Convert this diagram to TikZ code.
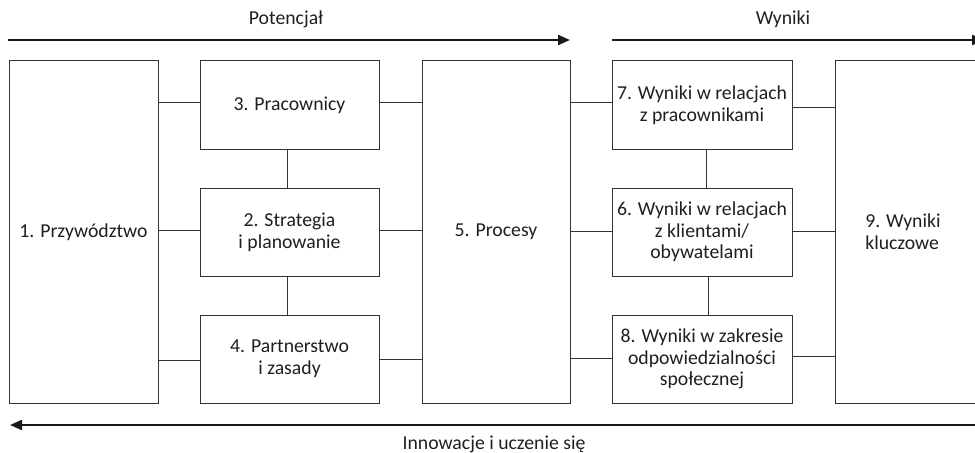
\documentclass[tikz,border=0pt]{standalone}
\usepackage{fontspec}
\setmainfont{Carlito}
\usetikzlibrary{arrows.meta}
\begin{document}
\begin{tikzpicture}[x=0.75pt,y=-0.75pt,
  every node/.style={font=\fontsize{14.8pt}{16.3pt}\selectfont, text=black!88},
  box/.style={draw=black!80, line width=0.75pt, inner sep=0pt, outer sep=0pt, align=center, fill=white},
  tall/.style={box, minimum height=256.5pt},
  small/.style={box, minimum height=66pt},
  conn/.style={draw=black!80, line width=0.75pt},
  flow/.style={draw=black!90, line width=1.6pt, -{Triangle[length=9pt,width=7.5pt]}}
]
\useasboundingbox (0,0) rectangle (975,453);
\clip (0,0) rectangle (975,453);

% boxes
\node[tall, minimum width=111.75pt] (b1) at (83.5,232) {1. Przywództwo};
\node[small, minimum width=134.25pt] (b3) at (289.5,105) {3. Pracownicy};
\node[small, minimum width=134.25pt] (b2) at (289.5,232) {2. Strategia\\i planowanie};
\node[small, minimum width=134.25pt] (b4) at (289.5,359) {4. Partnerstwo\\i zasady};
\node[tall, minimum width=111pt] (b5) at (496,232) {5. Procesy};
\node[small, minimum width=135pt] (b7) at (702,105) {7. Wyniki w relacjach\\z pracownikami};
\node[small, minimum width=135pt] (b6) at (702,232) {6. Wyniki w relacjach\\z klientami/\\obywatelami};
\node[small, minimum width=135pt] (b8) at (702,359) {8. Wyniki w zakresie\\odpowiedzialności\\społecznej};
\node[tall, minimum width=120pt] (b9) at (915,232) {};
\node[anchor=west, align=left, inner sep=0pt] (t9) at (865,232) {9. Wyniki\\kluczowe};

% connectors
\path[conn] (b1.east |- 0,103) -- (b3.west |- 0,103);
\path[conn] (b1.east |- 0,230) -- (b2.west |- 0,230);
\path[conn] (b1.east |- 0,360) -- (b4.west |- 0,360);
\path[conn] (b3.east |- 0,103) -- (b5.west |- 0,103);
\path[conn] (b2.east |- 0,230) -- (b5.west |- 0,230);
\path[conn] (b4.east |- 0,359) -- (b5.west |- 0,359);
\path[conn] (b5.east |- 0,103) -- (b7.west |- 0,103);
\path[conn] (b5.east |- 0,231) -- (b6.west |- 0,231);
\path[conn] (b5.east |- 0,358) -- (b8.west |- 0,358);
\path[conn] (b7.east |- 0,108) -- (b9.west |- 0,108);
\path[conn] (b6.east |- 0,231) -- (b9.west |- 0,231);
\path[conn] (b8.east |- 0,356) -- (b9.west |- 0,356);
\path[conn] (b3.south -| 287,0) -- (b2.north -| 287,0);
\path[conn] (b2.south -| 287,0) -- (b4.north -| 287,0);
\path[conn] (b7.south -| 706,0) -- (b6.north -| 706,0);
\path[conn] (b6.south -| 708,0) -- (b8.north -| 708,0);

% flow arrows
\coordinate (p1) at (8,40);
\coordinate (p2) at (570,40);
\coordinate (w1) at (612,40);
\coordinate (w2) at (984,40);
\coordinate (i1) at (980,425);
\coordinate (i2) at (10,425);
\path[flow] (p1) -- (p2);
\path[flow] (w1) -- (w2);
\path[flow] (i1) -- (i2);
\node[anchor=base] (lp) at (286,25) {Potencjał};
\node[anchor=base] (lw) at (783,25) {Wyniki};
\node[anchor=base] (li) at (494,449) {Innowacje i uczenie się};
\end{tikzpicture}
\end{document}
